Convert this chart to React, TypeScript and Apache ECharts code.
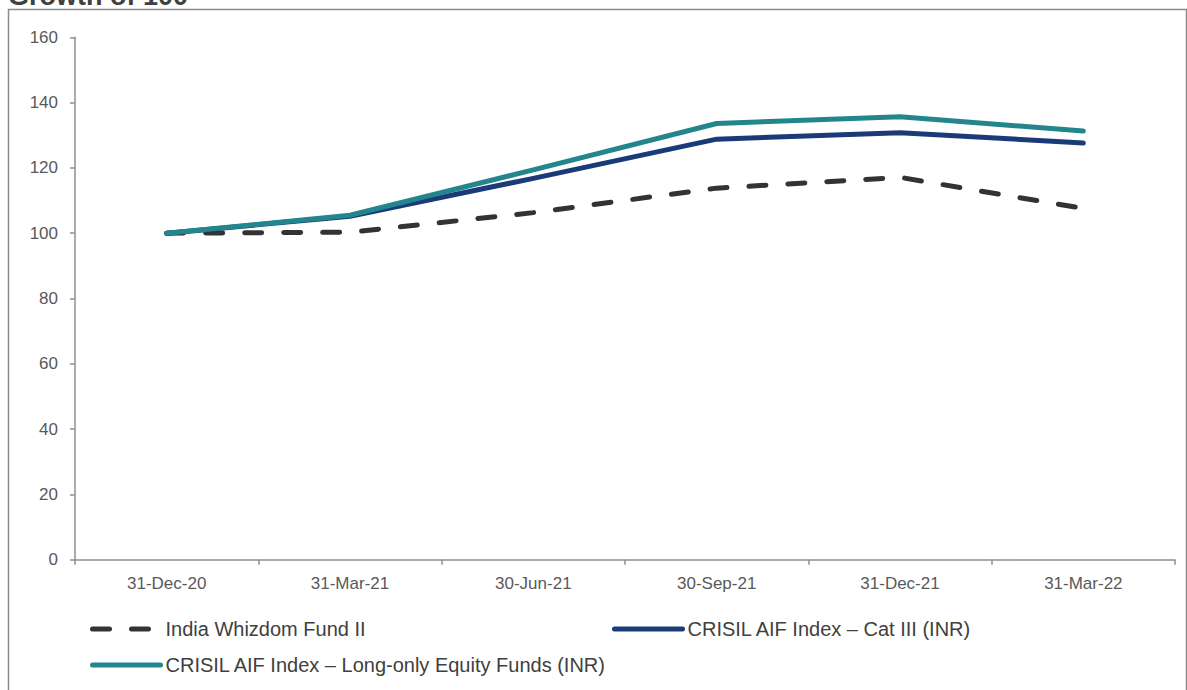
import React, { useEffect, useRef } from "react";
import * as echarts from "echarts";

const categories = ["31-Dec-20", "31-Mar-21", "30-Jun-21", "30-Sep-21", "31-Dec-21", "31-Mar-22"];
const fundValues = [100, 100.3, 106.3, 113.8, 117.1, 107.6];
const cat3Values = [100, 105.2, 116.8, 128.8, 130.8, 127.6];
const longOnlyValues = [100, 105.5, 119.4, 133.6, 135.7, 131.3];
const seriesNames = [
  "India Whizdom Fund II",
  "CRISIL AIF Index – Cat III (INR)",
  "CRISIL AIF Index – Long-only Equity Funds (INR)",
];
const title = "Growth of 100";

const FONT = "'Liberation Sans', Arial, sans-serif";

export default function App() {
  const ref = useRef<HTMLDivElement>(null);
  useEffect(() => {
    document.body.style.margin = "0";
    const chart = echarts.init(ref.current!, null, { renderer: "svg" });
    const colors = ["#333333", "#1B3A78", "#23868C"];
    const mkLegend = (name: string, left: number, top: number) => ({
      data: [name],
      left,
      top,
      padding: 0,
      orient: "horizontal",
      itemWidth: 68,
      itemHeight: 10,
      selectedMode: false,
      textStyle: { fontFamily: FONT, fontSize: 20, color: "#404040" },
      lineStyle: { width: 5, cap: "round" },
      itemStyle: { opacity: 0, borderWidth: 0 },
    });
    chart.setOption({
      animation: false,
      textStyle: { fontFamily: FONT },
      grid: { left: 75, right: 12, top: 37.3, height: 522.4 },
      graphic: [
        {
          type: "rect",
          shape: { x: 8.5, y: 9.5, width: 1178, height: 720 },
          style: { fill: "none", stroke: "#8a8a8a", lineWidth: 1.5 },
          silent: true,
        },
        {
          type: "text",
          x: 8,
          y: -18,
          style: {
            text: title,
            font: "bold 27px 'Liberation Sans', Arial, sans-serif",
            fill: "#404040",
          },
        },
      ],
      legend: [
        mkLegend(seriesNames[0], 90, 619),
        mkLegend(seriesNames[1], 612, 619),
        mkLegend(seriesNames[2], 90, 655),
      ],
      xAxis: {
        type: "category",
        data: categories,
        boundaryGap: true,
        axisLine: { lineStyle: { color: "#8f8f8f", width: 1.5 } },
        axisTick: { show: true, length: 5, lineStyle: { color: "#8f8f8f", width: 1.5 } },
        axisLabel: { color: "#595959", fontSize: 17, margin: 15, fontFamily: FONT },
        splitLine: { show: false },
      },
      yAxis: {
        type: "value",
        min: 0,
        max: 160,
        interval: 20,
        axisLine: { show: true, lineStyle: { color: "#8f8f8f", width: 1.5 } },
        axisTick: { show: true, length: 5, lineStyle: { color: "#8f8f8f", width: 1.5 } },
        axisLabel: { color: "#595959", fontSize: 17, margin: 17, fontFamily: FONT },
        splitLine: { show: false },
      },
      series: [
        {
          name: seriesNames[0],
          type: "line",
          data: fundValues,
          symbol: "none",
          z: 3,
          lineStyle: { color: colors[0], width: 5, type: [17, 22], cap: "round", join: "round" },
          itemStyle: { color: colors[0] },
        },
        {
          name: seriesNames[1],
          type: "line",
          data: cat3Values,
          symbol: "none",
          z: 4,
          lineStyle: { color: colors[1], width: 5, cap: "round", join: "round" },
          itemStyle: { color: colors[1] },
        },
        {
          name: seriesNames[2],
          type: "line",
          data: longOnlyValues,
          symbol: "none",
          z: 5,
          lineStyle: { color: colors[2], width: 5, cap: "round", join: "round" },
          itemStyle: { color: colors[2] },
        },
      ],
    });
    return () => chart.dispose();
  }, []);
  return <div ref={ref} style={{ width: 1187, height: 690 }} />;
}
